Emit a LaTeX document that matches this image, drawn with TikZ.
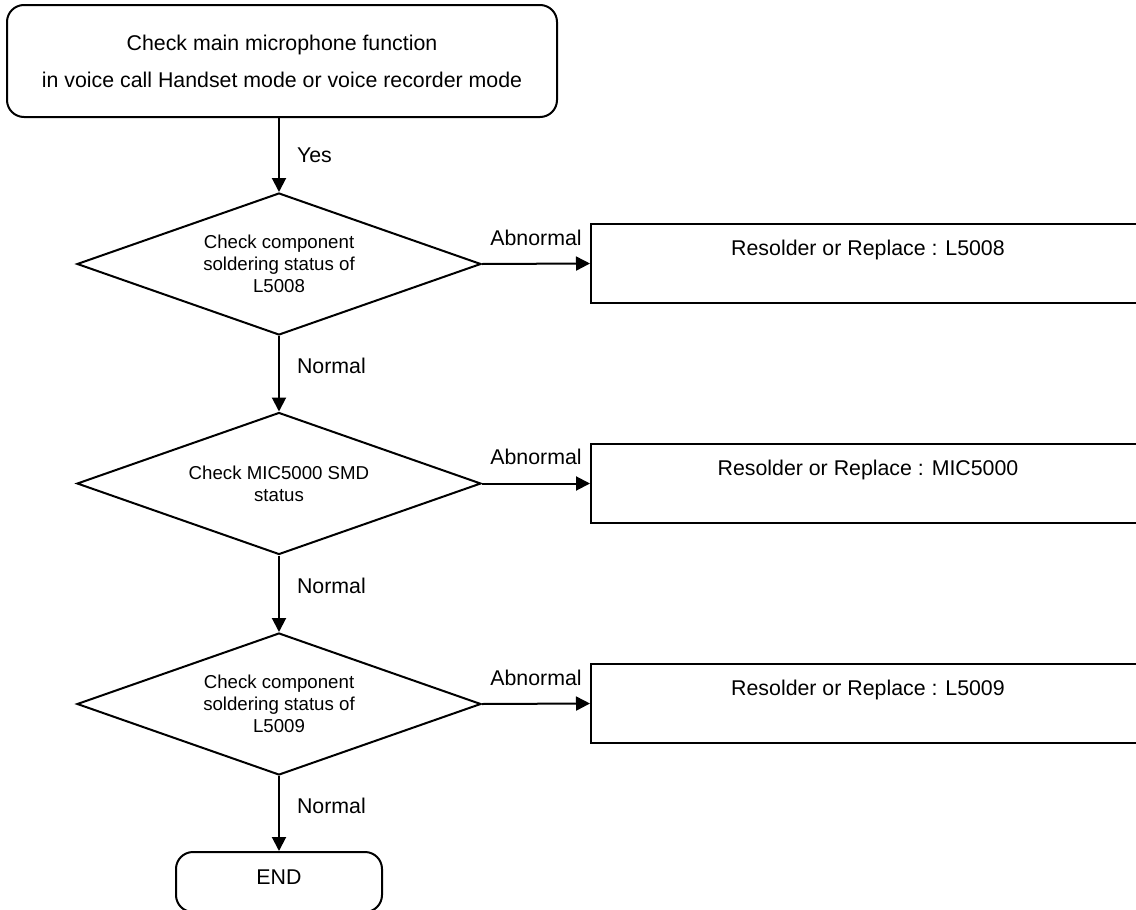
\documentclass[tikz,border=0pt]{standalone}
\usepackage{fontspec}
\setmainfont{Liberation Sans}
\usetikzlibrary{arrows.meta, shapes.geometric}

\begin{document}
\begin{tikzpicture}[x=0.75pt, y=-0.75pt, line width=1.5pt, >={Triangle[length=10.5pt,width=10.5pt]},
  startbox/.style={draw, rounded corners=12.75pt, minimum width=412.5pt, minimum height=84pt, align=center, font=\fontsize{16}{27.75}\selectfont},
  decision/.style={draw, diamond, shape aspect=2.85, minimum width=303pt, minimum height=106.5pt, inner sep=0pt, align=center, font=\fontsize{14}{16.5}\selectfont},
  fixbox/.style={draw, rectangle, minimum width=415.5pt, inner ysep=0pt, text height=23.6pt, text depth=35.6pt, font=\fontsize{16}{19}\selectfont},
  endbox/.style={draw, rounded corners=12.75pt, minimum width=154.5pt, inner ysep=0pt, text height=24.4pt, text depth=20.6pt, font=\fontsize{16}{19}\selectfont},
  lbl/.style={inner sep=0pt, font=\fontsize{16}{19}\selectfont}]
  \useasboundingbox (0,0) rectangle (1136,910);
  \clip (0,0) rectangle (1136,910);
  % main flow
  \node[startbox] (start) at (282,61) {Check main microphone function\\in voice call Handset mode or voice recorder mode};
  \node[decision] (d1) at (279,264) {Check component\\soldering status of\\L5008};
  \node[decision] (d2) at (279,483.5) {Check MIC5000 SMD\\status};
  \node[decision] (d3) at (279,704) {Check component\\soldering status of\\L5009};
  \node[endbox] (fin) at (279,882) {END};
  % repair boxes
  \node[fixbox] (r1) at (868,263.5) {Resolder or Replace : L5008};
  \node[fixbox] (r2) at (868,483.5) {Resolder or Replace : MIC5000};
  \node[fixbox] (r3) at (868,703.5) {Resolder or Replace : L5009};
  % connectors
  \draw[->] (start.south -| d1.north) -- node[lbl, pos=0.5, right=12.75pt] {Yes} (d1.north);
  \draw[->] (d1.south) -- node[lbl, pos=0.4, right=12.75pt] {Normal} (d2.north);
  \draw[->] (d2.south) -- node[lbl, pos=0.4, right=12.75pt] {Normal} (d3.north);
  \draw[->] (d3.south) -- node[lbl, pos=0.4, right=12.75pt] {Normal} (fin.north);
  \draw[->] (d1.east) -- node[lbl, midway, above=13pt] {Abnormal} (r1.west);
  \draw[->] (d2.east) -- node[lbl, midway, above=13pt] {Abnormal} (r2.west);
  \draw[->] (d3.east) -- node[lbl, midway, above=13pt] {Abnormal} (r3.west);
\end{tikzpicture}
\end{document}
